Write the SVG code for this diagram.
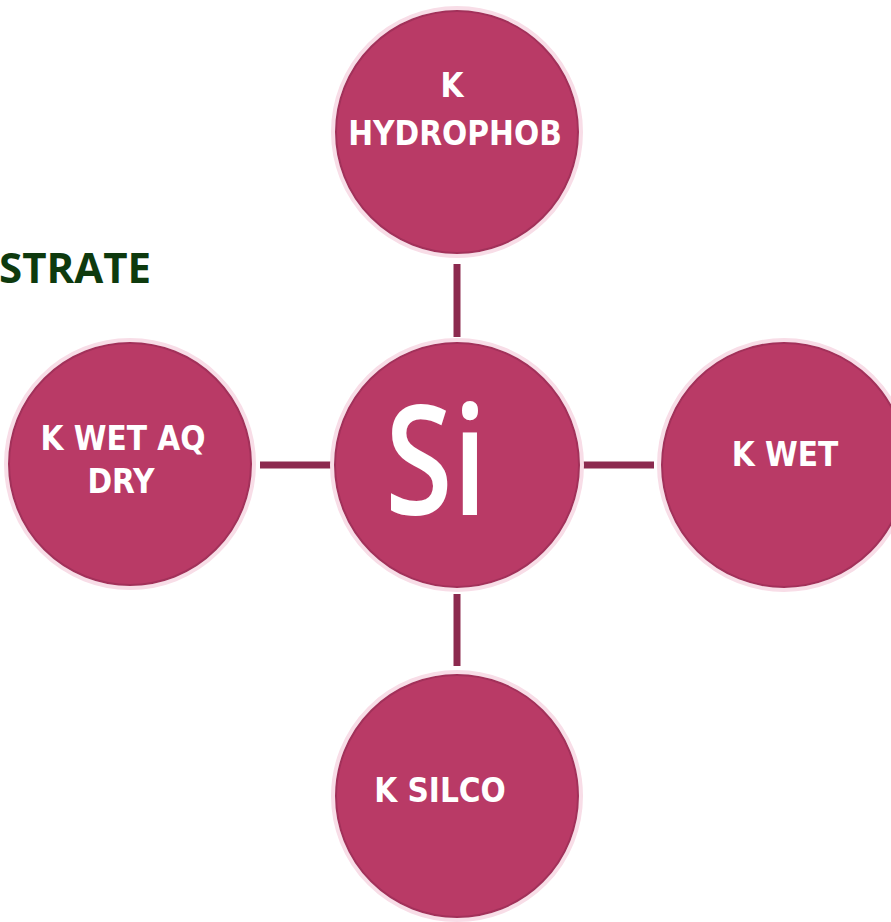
<svg xmlns="http://www.w3.org/2000/svg" width="891" height="922" viewBox="0 0 891 922">
<style>
.node{fill:#B93A66;stroke:#A2315A;stroke-width:2}
.halo{fill:none;stroke:#F8DDE7;stroke-width:4}
.lbl{font-family:"DejaVu Sans Condensed","DejaVu Sans","Liberation Sans",sans-serif;font-stretch:condensed;font-weight:bold;font-size:33px;fill:#FFFFFF;text-anchor:middle}
.conn{stroke:#8C2A4F;stroke-width:7;fill:none}
</style>
<rect width="891" height="922" fill="#FFFFFF"/>
<text x="-1" y="283" style="font-family:'Open Sans','Liberation Sans',sans-serif;font-weight:bold;font-size:42px;fill:#0E3A0E">STRATE</text>
<g id="connectors">
<line class="conn" x1="457" y1="264" x2="457" y2="337"/>
<line class="conn" x1="457" y1="594" x2="457" y2="666"/>
<line class="conn" x1="260" y1="465" x2="332" y2="465"/>
<line class="conn" x1="583" y1="465" x2="654" y2="465"/>
</g>
<g id="node-top">
<circle class="halo" cx="457" cy="132" r="124"/>
<circle class="node" cx="457" cy="132" r="121"/>
<text class="lbl" x="452" y="97">K</text>
<text class="lbl" x="455" y="145">HYDROPHOB</text>
</g>
<g id="node-center">
<circle class="halo" cx="457" cy="465" r="125"/>
<circle class="node" cx="457" cy="465" r="122"/>
<text x="436" y="515" textLength="102" lengthAdjust="spacingAndGlyphs" style="font-family:'Open Sans','Liberation Sans',sans-serif;font-weight:600;font-size:152px;fill:#FFFFFF;text-anchor:middle">Si</text>
</g>
<g id="node-left">
<circle class="halo" cx="130" cy="464" r="124"/>
<circle class="node" cx="130" cy="464" r="121"/>
<text class="lbl" x="123" y="450">K WET AQ</text>
<text class="lbl" x="121" y="493">DRY</text>
</g>
<g id="node-right">
<circle class="halo" cx="784" cy="465" r="125"/>
<circle class="node" cx="784" cy="465" r="122"/>
<text class="lbl" x="785" y="466">K WET</text>
</g>
<g id="node-bottom">
<circle class="halo" cx="457" cy="796" r="124"/>
<circle class="node" cx="457" cy="796" r="121"/>
<text class="lbl" x="440" y="802">K SILCO</text>
</g>
</svg>
